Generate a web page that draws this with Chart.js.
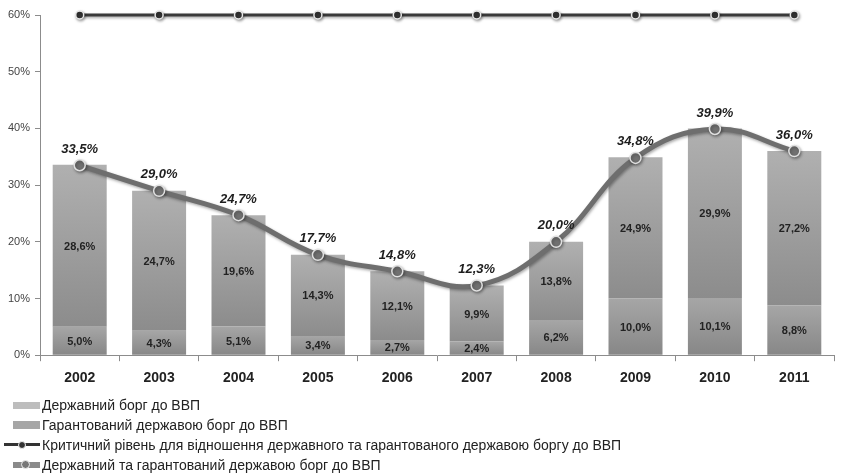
<!DOCTYPE html>
<html>
<head>
<meta charset="utf-8">
<script src="https://cdn.jsdelivr.net/npm/chart.js@4.4.1/dist/chart.umd.min.js"></script>
<style>
  html, body { margin: 0; padding: 0; background: #fff; }
  #wrap { position: relative; width: 841px; height: 476px; overflow: hidden; }
  #box { position: absolute; left: 0; top: 0; width: 841px; height: 402px; }
  #legend { position: absolute; left: 0; top: 395px; font: 14px "Liberation Sans", Arial, sans-serif; color: #222; }
  .row { height: 20px; display: flex; align-items: center; white-space: nowrap; }
  .sw { position: relative; width: 42px; height: 20px; flex: none; }
  .sw i { position: absolute; display: block; }
</style>
</head>
<body>
<div id="wrap">
  <div id="box"><canvas id="chart"></canvas></div>
  <div id="legend">
    <div class="row"><span class="sw"><i style="left:13px;top:7px;width:27px;height:7px;background:#bdbdbd"></i></span>Державний борг до ВВП</div>
    <div class="row"><span class="sw"><i style="left:13px;top:6px;width:27px;height:8px;background:#a6a6a6"></i></span>Гарантований державою борг до ВВП</div>
    <div class="row"><span class="sw"><i style="left:4px;top:8px;width:36px;height:3px;background:#333"></i><i style="left:18px;top:6px;width:6px;height:6px;border-radius:50%;background:#333;border:1px solid #eee"></i></span>Критичний рівень для відношення державного та гарантованого державою боргу до ВВП</div>
    <div class="row"><span class="sw"><i style="left:13px;top:7px;width:27px;height:6px;background:#8a8a8a"></i><i style="left:21px;top:5px;width:7px;height:7px;border-radius:50%;background:#777;border:1px solid #eee"></i></span>Державний та гарантований державою борг до ВВП</div>
  </div>
</div>
<script>
// Public debt of Ukraine, % of GDP
const years = ['2002', '2003', '2004', '2005', '2006', '2007', '2008', '2009', '2010', '2011'];
const stateDebt = [28.6, 24.7, 19.6, 14.3, 12.1, 9.9, 13.8, 24.9, 29.9, 27.2];
const guaranteedDebt = [5.0, 4.3, 5.1, 3.4, 2.7, 2.4, 6.2, 10.0, 10.1, 8.8];
const totalDebt = [33.5, 29.0, 24.7, 17.7, 14.8, 12.3, 20.0, 34.8, 39.9, 36.0];
const criticalLevel = [60, 60, 60, 60, 60, 60, 60, 60, 60, 60];
const yTickValues = [0, 10, 20, 30, 40, 50, 60];

const FONT = '"Liberation Sans", Arial, sans-serif';
const fmt = v => v.toFixed(1).replace('.', ',') + '%';

// vertical gradient spanning one bar segment
function segmentFill(own, below, topColor, bottomColor) {
  return c => {
    const chart = c.chart;
    if (c.type !== 'data' || !chart.chartArea) return bottomColor;
    const y = chart.scales.y;
    const i = c.dataIndex;
    const v0 = below ? below[i] : 0;
    const v1 = v0 + own[i];
    const g = chart.ctx.createLinearGradient(0, y.getPixelForValue(v1), 0, y.getPixelForValue(v0));
    g.addColorStop(0, topColor);
    g.addColorStop(1, bottomColor);
    return g;
  };
}

// soft drop shadow under the two lines
const lineShadow = {
  id: 'lineShadow',
  beforeDatasetDraw(chart, args) {
    if (args.index < 2) return;
    const ctx = chart.ctx;
    ctx.save();
    ctx.shadowColor = 'rgba(0,0,0,0.35)';
    ctx.shadowBlur = 3;
    ctx.shadowOffsetX = 1;
    ctx.shadowOffsetY = 1.5;
  },
  afterDatasetDraw(chart, args) {
    if (args.index < 2) return;
    chart.ctx.restore();
  }
};

// value labels inside the bar segments and above the total line
const valueLabels = {
  id: 'valueLabels',
  afterDatasetsDraw(chart) {
    const ctx = chart.ctx;
    ctx.save();
    ctx.textAlign = 'center';
    ctx.textBaseline = 'middle';
    ctx.fillStyle = '#222';
    ctx.font = 'bold 11px ' + FONT;
    [0, 1].forEach(di => {
      const vals = chart.data.datasets[di].data;
      chart.getDatasetMeta(di).data.forEach((bar, i) => {
        const p = bar.getProps(['x', 'y', 'base'], true);
        ctx.fillText(fmt(vals[i]), p.x, (p.y + p.base) / 2 + 1);
      });
    });
    ctx.font = 'italic bold 13px ' + FONT;
    ctx.fillStyle = '#1e1e1e';
    chart.getDatasetMeta(3).data.forEach((pt, i) => {
      ctx.fillText(fmt(totalDebt[i]), pt.x, pt.y - 16);
    });
    ctx.restore();
  }
};

new Chart(document.getElementById('chart'), {
  data: {
    labels: years,
    datasets: [
      {
        type: 'bar',
        label: 'Гарантований державою борг до ВВП',
        data: guaranteedDebt,
        backgroundColor: segmentFill(guaranteedDebt, null, '#a6a6a6', '#878787'),
        stack: 'debt',
        order: 3,
        categoryPercentage: 0.68,
        barPercentage: 1
      },
      {
        type: 'bar',
        label: 'Державний борг до ВВП',
        data: stateDebt,
        backgroundColor: segmentFill(stateDebt, guaranteedDebt, '#b0b0b0', '#8c8c8c'),
        stack: 'debt',
        order: 3,
        categoryPercentage: 0.68,
        barPercentage: 1
      },
      {
        type: 'line',
        label: 'Критичний рівень для відношення державного та гарантованого державою боргу до ВВП',
        data: criticalLevel,
        stack: 'critical',
        borderColor: '#3a3a3a',
        borderWidth: 3,
        pointRadius: 4,
        pointBackgroundColor: '#333',
        pointBorderColor: '#e8e8e8',
        pointBorderWidth: 1.5,
        tension: 0,
        clip: false,
        order: 1
      },
      {
        type: 'line',
        label: 'Державний та гарантований державою борг до ВВП',
        data: totalDebt,
        stack: 'total',
        borderColor: '#6e6e6e',
        borderWidth: 5,
        pointRadius: 5.5,
        pointBackgroundColor: '#707070',
        pointBorderColor: '#e0e0e0',
        pointBorderWidth: 1.5,
        tension: 0.4,
        clip: false,
        order: 0
      }
    ]
  },
  options: {
    responsive: true,
    maintainAspectRatio: false,
    animation: false,
    layout: { padding: { top: 15, right: 0, bottom: 6, left: 0 } },
    plugins: {
      legend: { display: false },
      tooltip: { enabled: false }
    },
    scales: {
      x: {
        stacked: true,
        offset: true,
        grid: { display: true, drawOnChartArea: false, drawTicks: true, tickLength: 6, color: '#8c8c8c', offset: true },
        border: { display: true, color: '#8c8c8c', width: 1 },
        ticks: { font: { family: FONT, size: 14, weight: 'bold' }, color: '#222', padding: 9 }
      },
      y: {
        stacked: true,
        min: yTickValues[0],
        max: yTickValues[yTickValues.length - 1],
        afterBuildTicks: s => { s.ticks = yTickValues.map(v => ({ value: v })); },
        afterFit: s => { s.width = 40; },
        grid: { display: true, drawOnChartArea: false, drawTicks: true, tickLength: 5, color: '#8c8c8c' },
        border: { display: true, color: '#8c8c8c', width: 1 },
        ticks: { font: { family: FONT, size: 11 }, color: '#444', padding: 5, callback: v => v + '%' }
      }
    }
  },
  plugins: [lineShadow, valueLabels]
});
</script>
</body>
</html>
